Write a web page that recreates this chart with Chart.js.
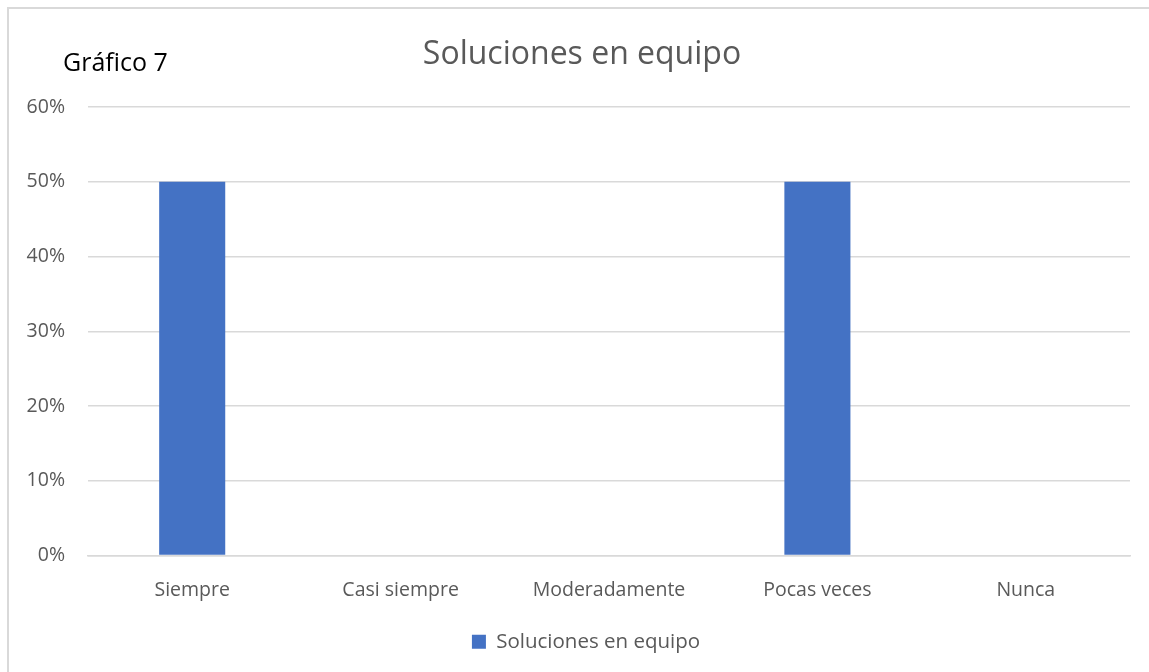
<!DOCTYPE html>
<html lang="es">
<head>
    <meta charset="UTF-8">
    <title>Soluciones en equipo</title>
    <script src="https://cdn.jsdelivr.net/npm/chart.js"></script>
    <style>
        html, body { margin: 0; padding: 0; background: #fff; }
        .frame {
            position: absolute;
            left: 7px;
            top: 7px;
            width: 1160px;
            height: 700px;
            border-left: 2px solid #d9d9d9;
            border-top: 2px solid #d9d9d9;
        }
        .wrap { position: absolute; left: 0; top: 0; width: 1149px; height: 672px; }
    </style>
</head>
<body>
    <div class="frame"></div>
    <div class="wrap">
        <canvas id="myChart" width="1149" height="672"></canvas>
    </div>

    <script>
        const categories = ['Siempre', 'Casi siempre', 'Moderadamente', 'Pocas veces', 'Nunca'];
        const seriesName = 'Soluciones en equipo';
        const values = [0.5, 0, 0, 0.5, 0];
        const yTicks = [0, 0.1, 0.2, 0.3, 0.4, 0.5, 0.6];

        const FONT = "'Open Sans', 'Liberation Sans', sans-serif";
        const GRAY = '#595959';

        // chart title and the "Gráfico 7" caption, placed by hand above the plot
        const headingPlugin = {
            id: 'heading',
            afterLayout(chart) {
                // centre the legend under the whole frame, not just the plot
                chart.legend.left += 17;
                chart.legend.right += 17;
            },
            afterDraw(chart) {
                const ctx = chart.ctx;
                ctx.save();
                ctx.textBaseline = 'alphabetic';

                ctx.font = '32px ' + FONT;
                ctx.fillStyle = GRAY;
                ctx.textAlign = 'center';
                ctx.fillText(seriesName, 582, 64);

                ctx.font = '25px ' + FONT;
                ctx.fillStyle = '#000';
                ctx.textAlign = 'left';
                ctx.fillText('Gráfico 7', 63, 71);
                ctx.restore();
            }
        };

        const myChart = new Chart(document.getElementById('myChart'), {
            type: 'bar',
            data: {
                labels: categories,
                datasets: [{
                    label: seriesName,
                    data: values,
                    backgroundColor: '#4472C4',
                    barPercentage: 0.317,
                    categoryPercentage: 1
                }]
            },
            options: {
                responsive: false,
                animation: false,
                layout: { padding: { top: 107, left: 8, right: 19, bottom: 10 } },
                plugins: {
                    title: { display: false },
                    legend: {
                        position: 'bottom',
                        labels: {
                            color: GRAY,
                            font: { family: FONT, size: 20.5 },
                            boxWidth: 14,
                            boxHeight: 14,
                            padding: 14
                        }
                    },
                    tooltip: { enabled: false }
                },
                scales: {
                    x: {
                        grid: { display: false },
                        border: { color: '#d9d9d9', width: 1.5 },
                        ticks: {
                            color: GRAY,
                            font: { family: FONT, size: 19.5 },
                            padding: 15,
                            maxRotation: 0
                        },
                        afterFit(scale) { scale.height = 62; }
                    },
                    y: {
                        min: 0,
                        max: 0.6,
                        afterBuildTicks(scale) { scale.ticks = yTicks.map(v => ({ value: v })); },
                        grid: { color: '#d9d9d9', lineWidth: 1.5, drawTicks: false },
                        border: { display: false },
                        ticks: {
                            color: GRAY,
                            font: { family: FONT, size: 19.5 },
                            padding: 23,
                            callback: v => Math.round(v * 100) + '%'
                        },
                        afterFit(scale) { scale.width = 80; }
                    }
                }
            },
            plugins: [headingPlugin]
        });
    </script>
</body>
</html>
